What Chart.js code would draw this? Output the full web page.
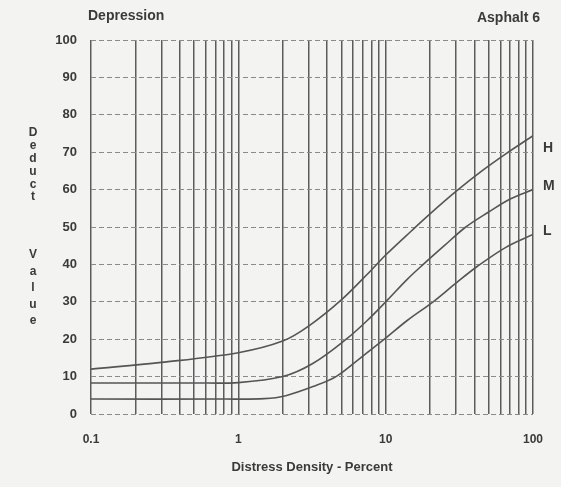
<!DOCTYPE html>
<html>
<head>
<meta charset="utf-8">
<script src="https://cdn.jsdelivr.net/npm/chart.js@4.4.1/dist/chart.umd.min.js"></script>
<style>
  html, body { margin: 0; padding: 0; background: #f3f3f1; }
  #wrap { position: relative; width: 561px; height: 487px; }
</style>
</head>
<body>
<div id="wrap"><canvas id="deductChart" width="561" height="487"></canvas></div>
<script>
// distress density (%) and deduct value for each severity curve
const densityH = [0.1, 0.3, 1, 2, 3, 5, 8, 10, 15, 20, 30, 45, 65, 100];
const deductH  = [12, 13.8, 16.4, 19.5, 23.5, 30.5, 38.5, 42.5, 49, 53.5, 59.5, 65, 69.5, 74.4];

const densityM = [0.1, 0.5, 1, 2, 3.2, 5.4, 7.5, 10.3, 14, 18, 25, 35, 50, 70, 100];
const deductM  = [8.3, 8.3, 8.4, 10, 13.5, 20, 25, 30.5, 36, 40, 45, 50, 54, 57.5, 60];

const densityL = [0.1, 0.8, 1.5, 2.1, 3.3, 4.6, 6.5, 9.8, 14, 21, 30, 42, 65, 100];
const deductL  = [4, 4, 4.1, 4.9, 7.5, 10, 14.5, 20, 25, 30, 35, 39.5, 44.5, 48];

const severities = ['H', 'M', 'L'];
const labelValues = [71, 61, 49];

// log grid: 1..9 in every decade from 0.1 to 100
const xGrid = [0.1, 0.2, 0.3, 0.4, 0.5, 0.6, 0.7, 0.8, 0.9,
               1, 2, 3, 4, 5, 6, 7, 8, 9,
               10, 20, 30, 40, 50, 60, 70, 80, 90, 100];
const xLabels = [0.1, 1, 10, 100];

const ink = '#3a3a3a';
const fontFam = '"Liberation Sans", Arial, sans-serif';

function toPoints(xs, ys) {
    return xs.map((x, i) => ({ x: x, y: ys[i] }));
}

function curve(label, xs, ys) {
    return {
        label: label,
        data: toPoints(xs, ys),
        borderColor: '#555',
        borderWidth: 1.6,
        pointRadius: 0,
        fill: false,
        tension: 0.35
    };
}

// page texts that sit outside the scales
const annotations = {
    id: 'annotations',
    afterDraw(chart) {
        const ctx = chart.ctx;
        const area = chart.chartArea;
        const y = chart.scales.y;
        ctx.save();
        ctx.fillStyle = ink;
        ctx.textBaseline = 'middle';

        ctx.font = 'bold 14px ' + fontFam;
        ctx.textAlign = 'left';
        ctx.fillText('Depression', area.left - 3, 16);
        ctx.textAlign = 'right';
        ctx.fillText('Asphalt 6', area.right + 7, 18);

        // severity tags at the right end of the curves
        ctx.textAlign = 'left';
        severities.forEach((s, i) => {
            ctx.fillText(s, area.right + 10, y.getPixelForValue(labelValues[i]));
        });

        // stacked y axis title
        ctx.font = 'bold 12px ' + fontFam;
        ctx.textAlign = 'center';
        'Deduct'.split('').forEach((ch, i) => ctx.fillText(ch, 33, 133 + i * 12.8));
        'Value'.split('').forEach((ch, i) => ctx.fillText(ch, 33, 255 + i * 16.5));
        ctx.restore();
    }
};

new Chart(document.getElementById('deductChart').getContext('2d'), {
    type: 'line',
    data: {
        datasets: [
            curve('H', densityH, deductH),
            curve('M', densityM, deductM),
            curve('L', densityL, deductL)
        ]
    },
    options: {
        responsive: false,
        animation: false,
        layout: { padding: { left: 0, right: 28, top: 40, bottom: 0 } },
        plugins: {
            legend: { display: false },
            tooltip: { enabled: false }
        },
        scales: {
            x: {
                type: 'logarithmic',
                min: 0.1,
                max: 100,
                afterBuildTicks: function(scale) {
                    scale.ticks = xGrid.map(v => ({ value: v }));
                },
                afterFit: function(scale) {
                    scale.height = 73;
                },
                ticks: {
                    autoSkip: false,
                    maxRotation: 0,
                    padding: 18,
                    color: ink,
                    font: { family: fontFam, size: 12, weight: 'bold' },
                    callback: function(value) {
                        return xLabels.includes(value) ? String(value) : '';
                    }
                },
                grid: {
                    color: '#5c5c5c',
                    lineWidth: 1.5,
                    drawTicks: false
                },
                border: { display: false },
                title: {
                    display: true,
                    text: 'Distress Density - Percent',
                    color: ink,
                    font: { family: fontFam, size: 13, weight: 'bold' },
                    padding: { top: 0, bottom: 12 }
                }
            },
            y: {
                min: 0,
                max: 100,
                afterFit: function(scale) {
                    scale.width = 91;
                },
                ticks: {
                    stepSize: 10,
                    padding: 14,
                    color: ink,
                    font: { family: fontFam, size: 13, weight: 'bold' }
                },
                grid: {
                    color: '#8a8a8a',
                    lineWidth: 1,
                    drawTicks: false
                },
                border: { display: false, dash: [5, 3] }
            }
        }
    },
    plugins: [annotations]
});
</script>
</body>
</html>
